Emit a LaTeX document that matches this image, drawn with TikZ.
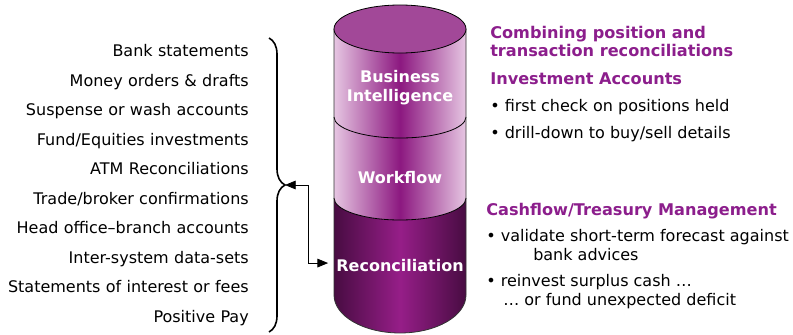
\documentclass[tikz,border=0pt]{standalone}
\usepackage{fontspec}
\setmainfont{DejaVu Sans}
\usepackage{tikz}
\usetikzlibrary{positioning}
\usetikzlibrary{arrows.meta}
\usetikzlibrary{decorations.pathreplacing}
\definecolor{cylLight}{RGB}{230,198,226}
\definecolor{cylDark}{RGB}{140,24,128}
\definecolor{recEdge}{RGB}{72,12,66}
\definecolor{recMid}{RGB}{150,30,136}
\definecolor{topFill}{RGB}{162,72,152}
\definecolor{headPurple}{RGB}{140,30,140}

\begin{document}
\begin{tikzpicture}[
		x=0.75pt, y=-0.75pt,
		every node/.style={font=\fontsize{12pt}{14pt}\selectfont, inner sep=0pt},
		source/.style={
			text width=190pt,
			align=right,
			text height=9pt,
			text depth=3pt,
			minimum height=21.7pt
		},
		heading/.style={anchor=base west, text=headPurple, font=\fontsize{12.1pt}{14pt}\selectfont\bfseries},
		bullet/.style={anchor=base west},
		layername/.style={anchor=base, text=white, font=\fontsize{12pt}{14pt}\selectfont\bfseries},
		link/.style={{Triangle[length=8pt,width=6.5pt]}-{Triangle[length=8pt,width=6.5pt]}, line width=0.6pt}
	]
		\useasboundingbox (0,0) rectangle (793,335);

		% cylinder
		\shade[left color=recEdge, right color=recEdge, middle color=recMid]
			(334,198) -- (334,295) arc[start angle=180, end angle=0, x radius=66, y radius=38]
			-- (466,198) arc[start angle=0, end angle=180, x radius=66, y radius=22] -- cycle;
		\shade[left color=cylLight, right color=cylLight, middle color=cylDark]
			(334,29) -- (334,198) arc[start angle=180, end angle=0, x radius=66, y radius=22]
			-- (466,29) -- cycle;
		\draw[line width=0.6pt] (334,117) arc[start angle=180, end angle=0, x radius=66, y radius=21];
		\draw[line width=0.6pt] (334,198) arc[start angle=180, end angle=0, x radius=66, y radius=22];
		\draw[line width=0.6pt, draw=black!80] (334,29) -- (334,295) arc[start angle=180, end angle=0, x radius=66, y radius=38] -- (466,29);
		\filldraw[fill=topFill, line width=0.6pt] (400,29) ellipse[x radius=66, y radius=24];

		\node[layername] (bi1) at (400,82.7) {Business};
		\node[layername] (bi2) at (400,101.7) {Intelligence};
		\node[layername] (wf) at (400,183.3) {Workflow};
		\node[layername] (rec) at (400,271.7) {Reconciliation};

		% sources
		\node[source, anchor=base east] (src1) at (249,57) {Bank statements};
		\node[source, below=0 of src1] (src2) {Money orders \& drafts};
		\node[source, below=0 of src2] (src3) {Suspense or wash accounts};
		\node[source, below=0 of src3] (src4) {Fund/Equities investments};
		\node[source, below=0 of src4] (src5) {ATM Reconciliations};
		\node[source, below=0 of src5] (src6) {Trade/broker confirmations};
		\node[source, below=0 of src6] (src7) {Head office–branch accounts};
		\node[source, below=0 of src7] (src8) {Inter-system data-sets};
		\node[source, below=0 of src8] (src9) {Statements of interest or fees};
		\node[source, below=0 of src9] (src10) {Positive Pay};

		\draw[decorate, decoration={brace, amplitude=12pt}, line width=1.2pt] (269,38) -- (269,332);
		\coordinate (bracetip) at (285,185);
		\draw[link] (bracetip) -- ++(23,0) |- ([xshift=-6pt, yshift=2pt] rec.west);

		% right hand texts
		\node[heading] (comb1) at (490,39) {Combining position and};
		\node[heading] (comb2) at (490,56.7) {transaction reconciliations};
		\node[heading] (invest) at (490,84.3) {Investment Accounts};
		\node[bullet] (inv1) at (490,111.7) {• first check on positions held};
		\node[bullet] (inv2) at (490,138.3) {• drill-down to buy/sell details};

		\node[heading] (cash) at (486,215) {Cashflow/Treasury Management};
		\node[bullet] (cash1) at (486,241.7) {• validate short-term forecast against};
		\node[bullet] (cash1b) at (533,260) {bank advices};
		\node[bullet] (cash2) at (486,286.7) {• reinvest surplus cash …};
		\node[bullet] (cash2b) at (503,305) {… or fund unexpected deficit};
	\end{tikzpicture}
\end{document}
